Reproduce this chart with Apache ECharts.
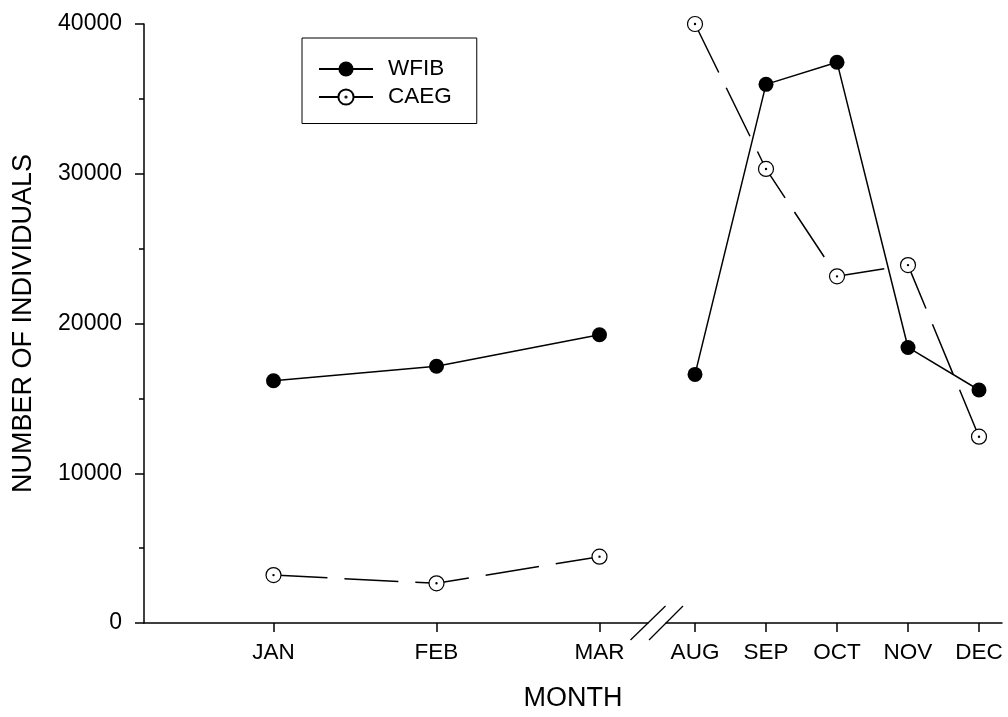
<!DOCTYPE html>
<html>
<head>
<meta charset="utf-8">
<script src="https://cdn.jsdelivr.net/npm/echarts@6/dist/echarts.min.js"></script>
<style>
  html, body { margin: 0; padding: 0; background: #fff; }
  #chart { width: 1008px; height: 717px; }
</style>
</head>
<body>
<div id="chart"></div>
<script>
// months on each side of the axis break
const monthsEarly = ["JAN", "FEB", "MAR"];
const monthsLate = ["AUG", "SEP", "OCT", "NOV", "DEC"];
const monthNumEarly = [1, 2, 3];
const monthNumLate = [8, 9, 10, 11, 12];

// number of individuals
const wfibEarly = [16180, 17150, 19250];
const wfibLate = [16600, 35970, 37450, 18400, 15560];
const caegEarly = [3200, 2650, 4430];
const caegLate = [40000, 30320, 23150, 23900, 12440];

const yTicks = [0, 10000, 20000, 30000, 40000];

const FONT = '"Liberation Sans", Arial, Helvetica, sans-serif';
const BLACK = "#000";

// layout of the two panels (pixels)
const plotTop = 24;
const plotBottom = 623;
const leftA = 144, rightA = 648;
const leftB = 666, rightB = 1002;

const monthName = {};
monthNumEarly.forEach((n, i) => { monthName[n] = monthsEarly[i]; });
monthNumLate.forEach((n, i) => { monthName[n] = monthsLate[i]; });

const pairs = (nums, vals) => nums.map((n, i) => [n, vals[i]]);

// open circle with a dot in the middle
const ringDot = "path://M0,10A10,10,0,1,1,20,10A10,10,0,1,1,0,10Z M9.2,10A0.8,0.8,0,1,1,10.8,10A0.8,0.8,0,1,1,9.2,10Z";

function makeSeries(name, idx, data, dashed) {
  return {
    name,
    type: "line",
    xAxisIndex: idx,
    yAxisIndex: idx,
    data,
    symbol: dashed ? ringDot : "circle",
    symbolSize: 15,
    showSymbol: true,
    lineStyle: { color: BLACK, width: 1.5, type: dashed ? [54, 17] : "solid" },
    itemStyle: dashed
      ? { color: "#fff", borderColor: BLACK, borderWidth: 1.2 }
      : { color: BLACK },
    emphasis: { disabled: true },
    z: dashed ? 2 : 3,
  };
}

function xAxisFor(idx, nums, min, max) {
  return {
    type: "value",
    gridIndex: idx,
    min,
    max,
    axisLine: { show: true, onZero: false, lineStyle: { color: BLACK, width: 1.5 } },
    axisTick: { show: true, customValues: nums, length: 9, lineStyle: { color: BLACK, width: 1.5 } },
    axisLabel: {
      customValues: nums,
      margin: 18,
      color: BLACK,
      fontFamily: FONT,
      fontSize: 22.5,
      formatter: (v) => monthName[v] || "",
    },
    splitLine: { show: false },
  };
}

const chart = echarts.init(document.getElementById("chart"), null, { renderer: "canvas" });

const spanA = 163;
const spanB = 71;

chart.setOption({
  animation: false,
  backgroundColor: "#fff",
  textStyle: { fontFamily: FONT },
  title: {
    text: "MONTH",
    left: (leftA + rightB) / 2,
    textAlign: "center",
    top: 685,
    padding: 0,
    textStyle: { fontFamily: FONT, fontSize: 27, fontWeight: "normal", color: BLACK },
  },
  legend: {
    orient: "vertical",
    left: 302,
    top: 38,
    data: ["WFIB", "CAEG"],
    itemWidth: 54,
    itemHeight: 19,
    itemGap: 5,
    padding: [19.5, 25, 15, 16],
    borderColor: BLACK,
    borderWidth: 1,
    selectedMode: false,
    textStyle: { fontFamily: FONT, fontSize: 22.5, color: BLACK, lineHeight: 19, padding: [0, 0, 0, 10] },
  },
  grid: [
    { left: leftA, width: rightA - leftA, top: plotTop, height: plotBottom - plotTop },
    { left: leftB, width: rightB - leftB, top: plotTop, height: plotBottom - plotTop },
  ],
  xAxis: [
    xAxisFor(0, monthNumEarly,
      monthNumEarly[0] - (273.5 - leftA) / spanA,
      monthNumEarly[2] + (rightA - 599.5) / spanA),
    xAxisFor(1, monthNumLate,
      monthNumLate[0] - (695 - leftB) / spanB,
      monthNumLate[4] + (rightB - 979) / spanB),
  ],
  yAxis: [
    {
      type: "value",
      gridIndex: 0,
      min: yTicks[0],
      max: yTicks[yTicks.length - 1],
      interval: yTicks[1] - yTicks[0],
      name: "NUMBER OF INDIVIDUALS",
      nameLocation: "middle",
      nameGap: 107,
      nameTextStyle: { fontFamily: FONT, fontSize: 27, color: BLACK },
      axisLine: { show: true, lineStyle: { color: BLACK, width: 1.5 } },
      axisTick: { show: true, length: 9, lineStyle: { color: BLACK, width: 1.5 } },
      minorTick: { show: true, splitNumber: 2, length: 5, lineStyle: { color: BLACK, width: 1.5 } },
      axisLabel: {
        margin: 22,
        color: BLACK,
        fontFamily: FONT,
        fontSize: 23,
        formatter: (v) => String(v),
      },
      splitLine: { show: false },
    },
    {
      type: "value",
      gridIndex: 1,
      min: yTicks[0],
      max: yTicks[yTicks.length - 1],
      interval: yTicks[1] - yTicks[0],
      show: false,
    },
  ],
  series: [
    makeSeries("CAEG", 0, pairs(monthNumEarly, caegEarly), true),
    makeSeries("CAEG", 1, pairs(monthNumLate, caegLate), true),
    makeSeries("WFIB", 0, pairs(monthNumEarly, wfibEarly), false),
    makeSeries("WFIB", 1, pairs(monthNumLate, wfibLate), false),
  ],
  graphic: [
    {
      type: "line",
      shape: { x1: rightA - 17.5, y1: plotBottom + 17, x2: rightA + 17.5, y2: plotBottom - 17 },
      style: { stroke: BLACK, lineWidth: 1.3 },
    },
    {
      type: "line",
      shape: { x1: leftB - 17, y1: plotBottom + 17, x2: leftB + 17, y2: plotBottom - 17 },
      style: { stroke: BLACK, lineWidth: 1.3 },
    },
  ],
});
</script>
</body>
</html>
